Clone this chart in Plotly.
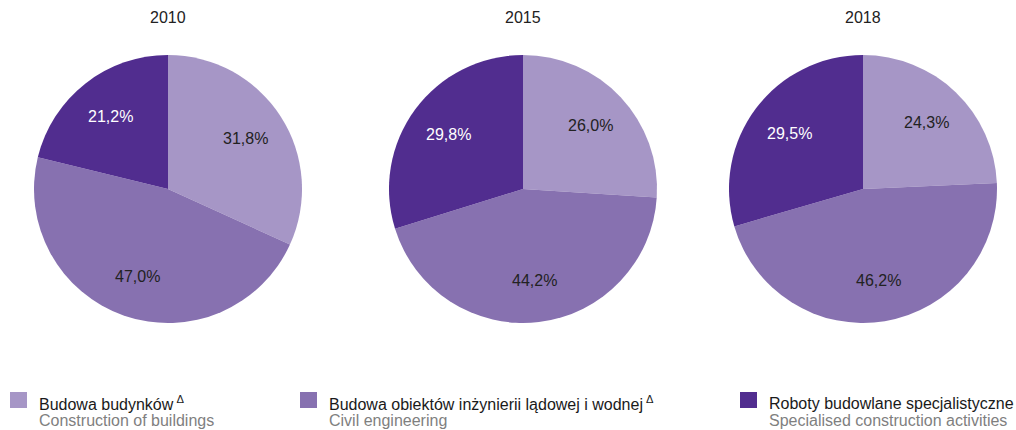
import math
import plotly.graph_objects as go

years = ["2010", "2015", "2018"]
cat_pl = ["Budowa budynków", "Budowa obiektów inżynierii lądowej i wodnej", "Roboty budowlane specjalistyczne"]
cat_en = ["Construction of buildings", "Civil engineering", "Specialised construction activities"]
cat_mark = ["Δ", "Δ", ""]
values = {
    "2010": [31.8, 47.0, 21.2],
    "2015": [26.0, 44.2, 29.8],
    "2018": [24.3, 46.2, 29.5],
}
colors = ["#a696c6", "#8771b0", "#512d8f"]
text_colors = ["#222222", "#222222", "#ffffff"]

W, H = 1016, 430
FONT = "Liberation Sans, Arial, sans-serif"

def px(x):
    return x / W

def py(y):
    return 1 - y / H

pie_boxes = [(34, 302), (389, 657), (729, 997)]
top, bottom = 55, 323
label_r = 0.69

fig = go.Figure()
for yr, (x0, x1) in zip(years, pie_boxes):
    vals = values[yr]
    fig.add_trace(go.Pie(
        values=vals,
        labels=cat_pl,
        textinfo="none",
        marker=dict(colors=colors, line=dict(width=0)),
        sort=False,
        direction="clockwise",
        rotation=0,
        hoverinfo="label+value",
        domain=dict(x=[px(x0), px(x1)], y=[py(bottom), py(top)]),
        showlegend=False,
    ))
    cx, cy = (x0 + x1) / 2, (top + bottom) / 2
    R = min(x1 - x0, bottom - top) / 2
    total = sum(vals)
    cum = 0.0
    for i, v in enumerate(vals):
        mid = (cum + v / 2) / total * 2 * math.pi
        cum += v
        lx = cx + label_r * R * math.sin(mid)
        ly = cy - label_r * R * math.cos(mid)
        fig.add_annotation(
            x=px(lx), y=py(ly), xref="paper", yref="paper",
            text=f"{v:.1f}%".replace(".", ","), showarrow=False,
            xanchor="center", yanchor="middle",
            font=dict(family=FONT, size=16, color=text_colors[i]),
        )
    fig.add_annotation(
        x=px(cx), y=py(18), xref="paper", yref="paper",
        text=yr, showarrow=False, xanchor="center", yanchor="middle",
        font=dict(family=FONT, size=16, color="#222222"),
    )

legend_x = [10, 300, 740]
for i, lx in enumerate(legend_x):
    fig.add_shape(
        type="rect", xref="paper", yref="paper",
        x0=px(lx), x1=px(lx + 17), y0=py(408), y1=py(392),
        fillcolor=colors[i], line=dict(width=0),
    )
    t = cat_pl[i]
    if cat_mark[i]:
        t += f"<sup> {cat_mark[i]}</sup>"
    fig.add_annotation(
        x=px(lx + 27), y=py(403), xref="paper", yref="paper",
        text=t, showarrow=False, xanchor="left", yanchor="middle",
        font=dict(family=FONT, size=16, color="#1a1a1a"),
    )
    fig.add_annotation(
        x=px(lx + 27), y=py(420), xref="paper", yref="paper",
        text=cat_en[i], showarrow=False, xanchor="left", yanchor="middle",
        font=dict(family=FONT, size=16, color="#7f7f7f"),
    )

fig.update_layout(
    width=W, height=H,
    margin=dict(l=0, r=0, t=0, b=0),
    paper_bgcolor="white", plot_bgcolor="white",
    font=dict(family=FONT),
)
fig.write_html(
    "out.html",
    config={"displayModeBar": False},
    post_script="document.body.style.margin='0px';document.body.style.overflow='hidden';",
)
